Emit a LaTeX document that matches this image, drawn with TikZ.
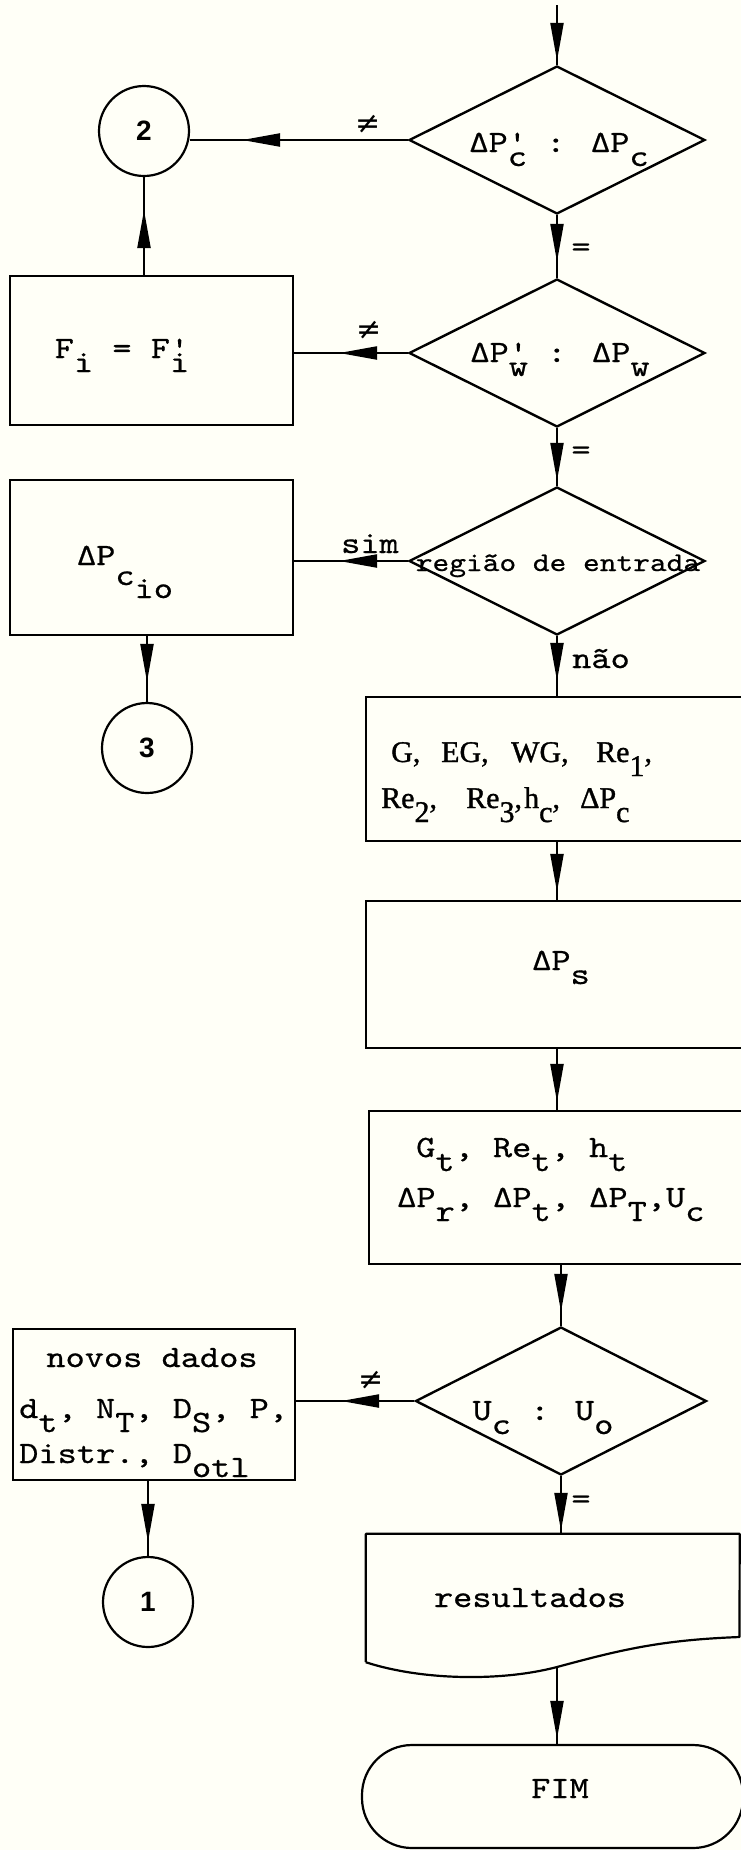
\documentclass[tikz,border=0pt]{standalone}
\usepackage{fontspec}
\usetikzlibrary{shapes.geometric,arrows.meta,decorations.markings}
\newfontfamily\tw{lmmono10-regular}[Extension=.otf, FakeStretch=1.18, FakeBold=0.6]
\newfontfamily\rmf{Liberation Serif}[FakeBold=1.2]
\newfontfamily\digf{Liberation Sans}
\newfontfamily\djv{DejaVu Sans}
\definecolor{bg}{RGB}{255,255,247}
\newcommand\dn[1]{\raisebox{-14pt}{#1}}
\newcommand\pdn[1]{\rlap{'}\raisebox{-14pt}{#1}}
\tikzset{
  line/.style={line width=2.2pt},
  tipat/.style={postaction={decorate},
    decoration={markings, mark=at position -#1 with {\arrow{Triangle[length=38pt,width=13pt]}}}},
  box/.style={draw, rectangle, line width=2.2pt, inner sep=0pt},
  dia/.style={draw, diamond, line width=2.4pt, minimum width=296pt, minimum height=148pt, inner sep=0pt},
  conn/.style={draw, circle, line width=2.2pt, minimum size=90pt, inner sep=0pt,
    font={\digf\bfseries\fontsize{28}{32}\selectfont}},
  txt/.style={font={\tw\fontsize{31}{37}\selectfont}, inner sep=0pt, anchor=base},
  rtxt/.style={font={\rmf\fontsize{30}{34}\selectfont}, inner sep=0pt, anchor=base west},
  lbl/.style={font={\tw\fontsize{31}{37}\selectfont}, inner sep=0pt},
  neq/.style={font={\djv\fontsize{30}{34}\selectfont}, inner sep=0pt},
}
\begin{document}
\begin{tikzpicture}[x=1pt,y=-1pt]
\fill[bg] (0,0) rectangle (741,1850);
\useasboundingbox (0,0) rectangle (741,1850);

% decisions
\node[dia] (d1) at (557,140) {};
\node[dia] (d2) at (557,353) {};
\node[dia] (d3) at (557,561) {};
\node[dia, minimum width=291pt] (d4) at (561,1401) {};

% connectors (circles)
\node[conn] (c2) at (144,131) {2};
\node[conn] (c3) at (147,748) {3};
\node[conn] (c1) at (148,1602) {1};

% process boxes
\node[box, minimum width=283pt, minimum height=149pt] (fi) at (151.5,350.5) {};
\node[box, minimum width=283pt, minimum height=155pt] (cio) at (151.5,557.5) {};
\node[box, minimum width=282pt, minimum height=151pt] (nov) at (154,1404.5) {};
\node[box, minimum width=376pt, minimum height=144pt] (b4) at (554,769) {};
\node[box, minimum width=376pt, minimum height=147pt] (b5) at (554,974.5) {};
\node[box, minimum width=373pt, minimum height=153pt] (b6) at (555.5,1187.5) {};
\node[inner sep=0pt, minimum width=373.5pt, minimum height=128pt] (res) at (552.75,1598) {};
\coordinate (resb) at (557,1667);
\node[draw, line width=2.2pt, rectangle, rounded corners=50pt, minimum width=381pt, minimum height=103pt] (fim) at (552.5,1796.5) {};
\coordinate (top) at (557,5);

% document shape
\draw[line, line join=round] (res.south west) -- (res.north west) -- (res.north east) -- (739.5,1637)
  .. controls (660,1640) and (620,1650) .. (resb)
  .. controls (500,1682) and (420,1680) .. (res.south west);

% texts
\node[txt] (t1) at (559,152) {ΔP\pdn{c} : ΔP\dn{c}};
\node[txt] (t2) at (560,362) {ΔP\pdn{w} : ΔP\dn{w}};
\node[txt, font={\tw\fontsize{27}{33}\selectfont}] (t3) at (558,571) {região de entrada};
\node[txt] (t4) at (543,1420) {U\dn{c} : U\dn{o}};
\node[txt] (tfi) at (122,358) {F\dn{i} = F\pdn{i}};
\node[txt] (tcio) at (125,565) {ΔP\raisebox{-20pt}{c}\raisebox{-33pt}{io}};
\node[txt] (tn1) at (152,1367) {novos dados};
\node[txt, anchor=base west] (tn2) at (19,1418) {d\dn{t}, N\dn{T}, D\dn{S}, P,};
\node[txt, anchor=base west] (tn3) at (19,1463) {Distr., D\dn{otl}};
\node[rtxt] (tb4a) at (391,762) {\makebox[50pt][l]{G,}\makebox[70pt][l]{EG,}\makebox[85pt][l]{WG,}Re\dn{1},};
\node[rtxt] (tb4b) at (381,808) {\makebox[85pt][l]{Re\dn{2},}\makebox[58pt][l]{Re\dn{3},}\makebox[56pt][l]{h\dn{c},}ΔP\dn{c}};
\node[txt] (tb5) at (561,970) {ΔP\dn{s}};
\node[txt, anchor=base west] (tb6a) at (416,1157) {G\dn{t}, Re\dn{t}, h\dn{t}};
\node[txt, anchor=base west] (tb6b) at (397,1207) {ΔP\dn{r}, ΔP\dn{t}, ΔP\dn{T},U\dn{c}};
\node[txt] (tres) at (530,1607) {resultados};
\node[txt] (tfim) at (560,1798) {FIM};

% labels
\node[neq] (n1) at (368,124) {≠};
\node[neq] (n2) at (369,330) {≠};
\node[neq] (n4) at (371,1380) {≠};
\node[lbl] (e1) at (581,250) {=};
\node[lbl] (e2) at (581,453) {=};
\node[lbl] (e4) at (581,1502) {=};
\node[txt] (lsim) at (370,553) {sim};
\node[txt] (lnao) at (601,668) {não};

% flow lines
\draw[line, tipat=4pt] (top) -- (d1.north);
\draw[line, tipat=52pt] (d1.west) -- (d1.west -| c2.east);
\draw[line, tipat=33pt] (fi.north -| c2.south) -- (c2.south);
\draw[line, tipat=16pt] (d1.south) -- (d2.north);
\draw[line, tipat=45pt] (d2.west) -- (d2.west -| fi.east);
\draw[line, tipat=5pt] (d2.south) -- (d3.north);
\draw[line, tipat=45pt] (d3.west) -- (d3.west -| cio.east);
\draw[line, tipat=20pt] (cio.south -| c3.north) -- (c3.north);
\draw[line, tipat=15pt] (d3.south) -- (d3.south |- b4.north);
\draw[line, tipat=8pt] (b4.south -| d3.south) -- (b5.north -| d3.south);
\draw[line, tipat=8pt] (b5.south -| d3.south) -- (b6.north -| d3.south);
\draw[line, tipat=14pt] (b6.south -| d4.north) -- (d4.north);
\draw[line, tipat=45pt] (d4.west) -- (d4.west -| nov.east);
\draw[line, tipat=14pt] (nov.south -| c1.north) -- (c1.north);
\draw[line, tipat=3pt] (d4.south) -- (d4.south |- res.north);
\draw[line, tipat=5pt] (resb) -- (resb |- fim.north);
\end{tikzpicture}
\end{document}
